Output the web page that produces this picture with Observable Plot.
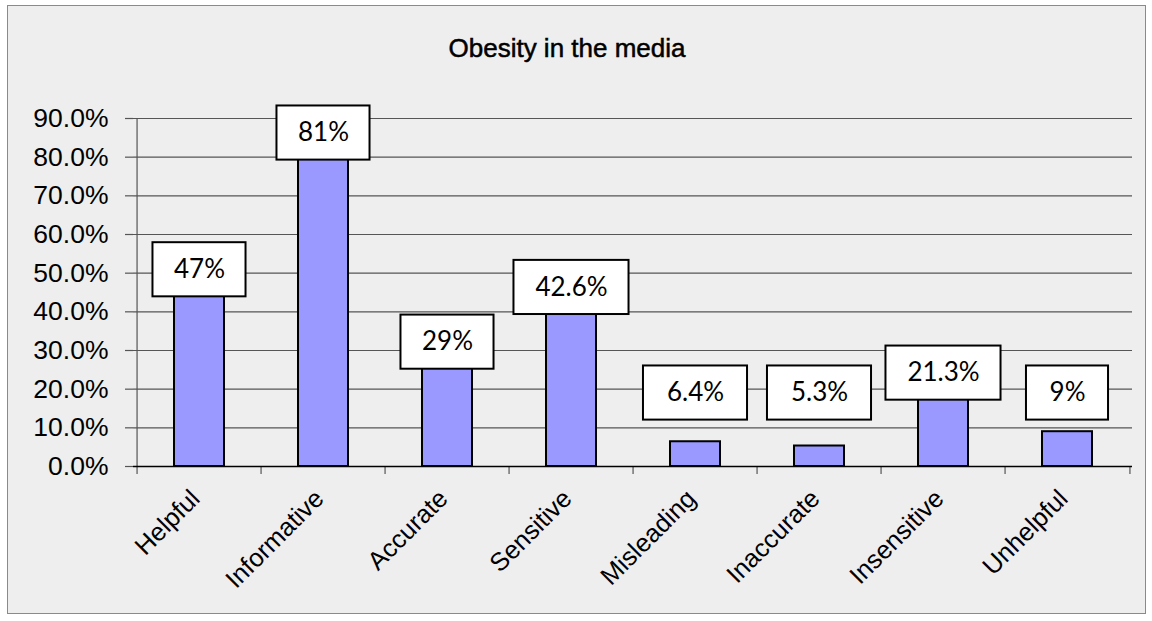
<!DOCTYPE html>
<html>
<head>
<meta charset="utf-8">
<script src="https://cdn.jsdelivr.net/npm/d3@7"></script>
<script src="https://cdn.jsdelivr.net/npm/@observablehq/plot@0.6"></script>
<style>
  html, body { margin: 0; padding: 0; background: #ffffff; }
  #wrap { position: relative; width: 1152px; height: 621px; }
  #frame { position: absolute; left: 7px; top: 5px; width: 1137px; height: 607px; border: 1px solid #8a8a8a; background: #eeeeee; }
  #title { position: absolute; left: 0; width: 1134px; top: 33px; text-align: center;
           font-family: "Liberation Sans", Arial, sans-serif; font-size: 26px; color: #000;
           -webkit-text-stroke: 0.5px #000; }
  #chart { position: absolute; left: 0; top: 0; }
</style>
</head>
<body>
<div id="wrap">
  <div id="frame"></div>
  <div id="title">Obesity in the media</div>
  <div id="chart"></div>
</div>
<script>
const categories = ["Helpful", "Informative", "Accurate", "Sensitive", "Misleading", "Inaccurate", "Insensitive", "Unhelpful"];
const values = [47, 81, 29, 42.6, 6.4, 5.3, 21.3, 9];
const valueLabels = ["47%", "81%", "29%", "42.6%", "6.4%", "5.3%", "21.3%", "9%"];
const yTicks = [0, 10, 20, 30, 40, 50, 60, 70, 80, 90];

const data = categories.map((c, i) => ({category: c, value: values[i], label: valueLabels[i]}));

const W = 1152, H = 621;
const mL = 133, mR = 20, mT = 118, mB = 155;
const pInner = 0.6, pOuter = 0.3;
const step = (W - mL - mR) / (categories.length - pInner + 2 * pOuter);
const bandW = step * (1 - pInner);
const boxHalf = 7; // half box height in y units

// label box placement derived from each value
const boxCenter = v => Math.max(v * 1.04 + 2, 19);
const boxWidth = s => 60 + 11 * s.length;

const boxMarks = data.map(d => {
  const inset = (bandW - boxWidth(d.label)) / 2;
  return Plot.barY([d], {
    x: "category",
    y1: v => boxCenter(v.value) - boxHalf,
    y2: v => boxCenter(v.value) + boxHalf,
    fill: "white", stroke: "black", strokeWidth: 2,
    insetLeft: inset, insetRight: inset
  });
});

const chart = Plot.plot({
  width: W, height: H,
  marginLeft: mL, marginRight: mR, marginTop: mT, marginBottom: mB,
  style: {background: "transparent", fontFamily: "'Liberation Sans', Arial, sans-serif", color: "black"},
  x: {domain: categories, paddingInner: pInner, paddingOuter: pOuter, label: null},
  y: {domain: [0, 90], label: null},
  marks: [
    Plot.ruleY(yTicks.slice(1), {stroke: "#555", strokeWidth: 1.2}),
    // y axis line
    Plot.ruleX([categories[0]], {x: d => d, y1: 0, y2: 90, dx: -step / 2, stroke: "#555", strokeWidth: 1.2}),
    // category boundary ticks
    Plot.ruleX(categories, {x: d => d, y1: 0, y2: 0, dx: -step / 2, insetBottom: -8, stroke: "#555", strokeWidth: 1.2}),
    Plot.ruleX([categories[categories.length - 1]], {x: d => d, y1: 0, y2: 0, dx: step / 2, insetBottom: -8, stroke: "#555", strokeWidth: 1.2}),
    Plot.axisY({ticks: yTicks, tickSize: 8, tickPadding: 17, fontSize: 26.5, tickFormat: d => d.toFixed(1) + "%", stroke: "#555", strokeWidth: 1.2}),
    Plot.axisX({tickSize: 0, tickPadding: 28, tickRotate: -45, fontSize: 25.5, dx: -4}),
    Plot.barY(data, {x: "category", y: "value", fill: "#9999ff", stroke: "black", strokeWidth: 2}),
    Plot.ruleY([0], {stroke: "black", strokeWidth: 1.5}),
    ...boxMarks,
    Plot.text(data, {x: "category", y: d => boxCenter(d.value), text: "label", fontSize: 26,
                     fontFamily: "Lato, 'Open Sans', sans-serif", fill: "black"})
  ]
});
document.getElementById("chart").appendChild(chart);
</script>
</body>
</html>
